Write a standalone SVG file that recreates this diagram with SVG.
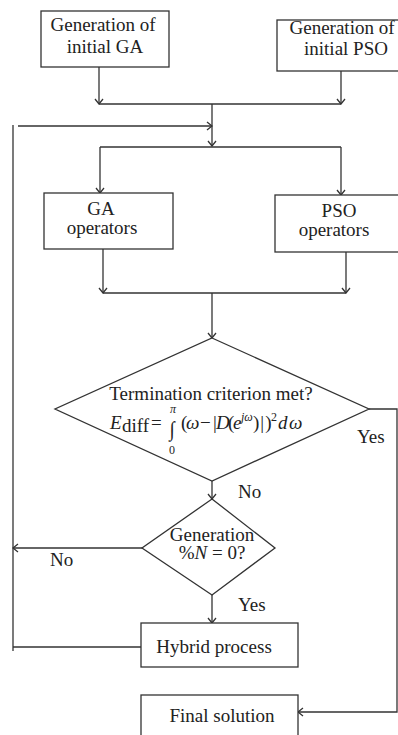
<svg xmlns="http://www.w3.org/2000/svg" width="398" height="735" viewBox="0 0 398 735">
<style>
.box{fill:#fff;stroke:#333;stroke-width:1.3}
.ln{fill:none;stroke:#333;stroke-width:1.3}
.ar{marker-end:url(#ah)}
text{font-family:"Liberation Serif","Times New Roman",serif;font-size:19px;fill:#222}
.c{text-anchor:middle}
.i{font-style:italic}
.s{font-size:12px}
</style>
<defs>
<marker id="ah" markerUnits="userSpaceOnUse" viewBox="-7 -5 8 10" markerWidth="8" markerHeight="10" refX="0" refY="0" orient="auto">
<path d="M-5,-4 L0,0 L-5,4" fill="none" stroke="#333" stroke-width="1.3"/>
</marker>
</defs>
<rect width="398" height="735" fill="#fff"/>
<g id="connectors">
<path class="ln ar" d="M99,67 V104"/>
<path class="ln ar" d="M341,71 V104"/>
<path class="ln" d="M99,104 H341"/>
<path class="ln ar" d="M212,104 V146"/>
<path class="ln ar" d="M18,126 H212"/>
<path class="ln" d="M100,147 H341"/>
<path class="ln ar" d="M100,147 V193"/>
<path class="ln ar" d="M341,147 V195"/>
<path class="ln ar" d="M103,249 V293"/>
<path class="ln ar" d="M346,252 V293"/>
<path class="ln" d="M103,293 H346"/>
<path class="ln ar" d="M212,293 V338"/>
<path class="ln ar" d="M212,481 V499"/>
<path class="ln ar" d="M142,548 H13"/>
<path class="ln ar" d="M212,595 V623"/>
<path class="ln" d="M141,647 H13"/>
<path class="ln" d="M13,125 V651"/>
<path class="ln ar" d="M369,409 H397 V712 H298"/>
<text x="238" y="498">No</text>
<text x="50" y="566">No</text>
<text x="238" y="611">Yes</text>
<text x="357" y="443">Yes</text>
</g>
<g id="init-ga">
<rect class="box" x="41" y="11" width="128" height="56"/>
<text class="c" x="103" y="31">Generation of</text>
<text class="c" x="105" y="53">initial GA</text>
</g>
<g id="init-pso">
<rect class="box" x="277" y="20" width="122" height="51"/>
<text class="c" x="342" y="34">Generation of</text>
<text class="c" x="346" y="55">initial PSO</text>
</g>
<g id="ga-op">
<rect class="box" x="44" y="193" width="129" height="56"/>
<text class="c" x="101" y="215">GA</text>
<text class="c" x="102" y="234">operators</text>
</g>
<g id="pso-op">
<rect class="box" x="275" y="195" width="124" height="57"/>
<text class="c" x="339" y="217">PSO</text>
<text class="c" x="334" y="236">operators</text>
</g>
<g id="termination">
<path class="box" d="M212,338 L369,409 L212,481 L55,409 Z"/>
<text class="c" x="211" y="400">Termination criterion met?</text>
<text x="110" y="429" class="i">E</text>
<text x="122" y="432" font-size="15">diff</text>
<text x="151" y="429">=</text>
<text class="c" transform="translate(172,436) scale(1,1.1)" font-family="DejaVu Serif" font-size="20">∫</text>
<text class="c i s" x="173" y="413">π</text>
<text class="c s" x="172" y="454">0</text>
<text x="181" y="429">(</text>
<text x="186" y="429" class="i">ω</text>
<text x="200" y="429">−</text>
<text x="213" y="429">|</text>
<text x="216" y="429" class="i">D</text>
<text x="228" y="429">(</text>
<text x="233" y="429" class="i">e</text>
<text x="241" y="421" class="i s">jω</text>
<text x="253" y="429" letter-spacing="1">)|)</text>
<text x="271" y="421" class="s">2</text>
<text x="278" y="429" class="i">d</text>
<text x="289" y="429" class="i">ω</text>
</g>
<g id="generation-check">
<path class="box" d="M212,499 L275,548 L212,595 L142,548 Z"/>
<text class="c" x="212" y="541">Generation</text>
<text class="c" x="212" y="559">%<tspan class="i">N</tspan> = 0?</text>
</g>
<g id="hybrid">
<rect class="box" x="141" y="623" width="157" height="44"/>
<text class="c" x="214" y="653">Hybrid process</text>
</g>
<g id="final">
<rect class="box" x="141" y="695" width="157" height="50"/>
<text class="c" x="222" y="722">Final solution</text>
</g>
</svg>
